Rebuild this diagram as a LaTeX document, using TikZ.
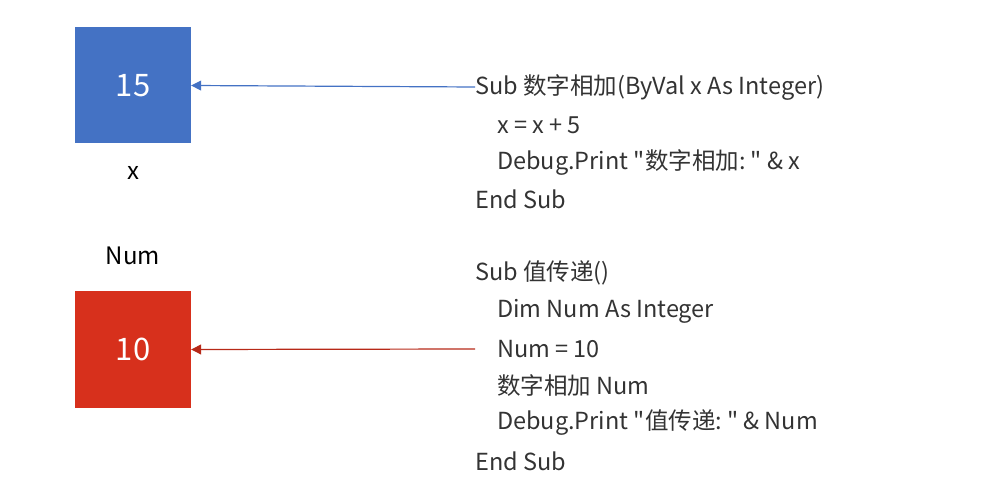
\documentclass[tikz,border=0pt]{standalone}
\usepackage{fontspec}
\setmainfont{Noto Sans CJK SC}
\setmonofont{Noto Sans CJK SC}
\usetikzlibrary{arrows.meta, positioning}
\definecolor{boxblue}{HTML}{4472C4}
\definecolor{boxred}{HTML}{D7301C}
\definecolor{codegray}{HTML}{333333}

\begin{document}
\begin{tikzpicture}[
        x=1pt,
        y=-1pt,
        varbox/.style={minimum width=116pt, minimum height=116pt, inner sep=0pt,
                       text=white, font=\fontsize{31}{36}\selectfont},
        varname/.style={font=\fontsize{24}{28}\selectfont, text=black},
        code/.style={anchor=west, inner sep=0pt, text=codegray,
                     font=\ttfamily\fontsize{23.5}{28}\selectfont},
        bref/.style={-{Triangle[length=10pt, width=10pt]}, line width=1.2pt, draw=boxblue},
        rref/.style={-{Triangle[length=10pt, width=10pt]}, line width=1.2pt, draw=boxred!85!black}
    ]
        \useasboundingbox (0,0) rectangle (988,494);

        % === VARIABLES ===
        \node[varbox, fill=boxblue] (xbox) at (133,85.5) {15};
        \node[varname] (xname) at (133,173) {x};
        \node[varname] (numname) at (133,256) {Num};
        \node[varbox, fill=boxred] (numbox) at (133,349.5) {10};

        % === CODE ===
        \node[code] (subadd) at (475,87) {Sub 数字相加(ByVal x As Integer)};
        \node[code] (addx) at (497,125) {x = x + 5};
        \node[code] (addprint) at (497,162) {Debug.Print "数字相加: " \& x};
        \node[code] (addend) at (475,199) {End Sub};

        \node[code] (subval) at (475,273) {Sub 值传递()};
        \node[code] (valdim) at (497,311) {Dim Num As Integer};
        \node[code] (valset) at (497,349) {Num = 10};
        \node[code] (valcall) at (497,386) {数字相加 Num};
        \node[code] (valprint) at (497,423) {Debug.Print "值传递: " \& Num};
        \node[code] (valend) at (475,461) {End Sub};

        \coordinate (setstart) at (valset.west -| subval.west);

        % === LIAISONS ===
        \draw[bref] (subadd.west) -- (xbox.east);
        \draw[rref] (setstart) -- (numbox.east);
    \end{tikzpicture}
\end{document}
